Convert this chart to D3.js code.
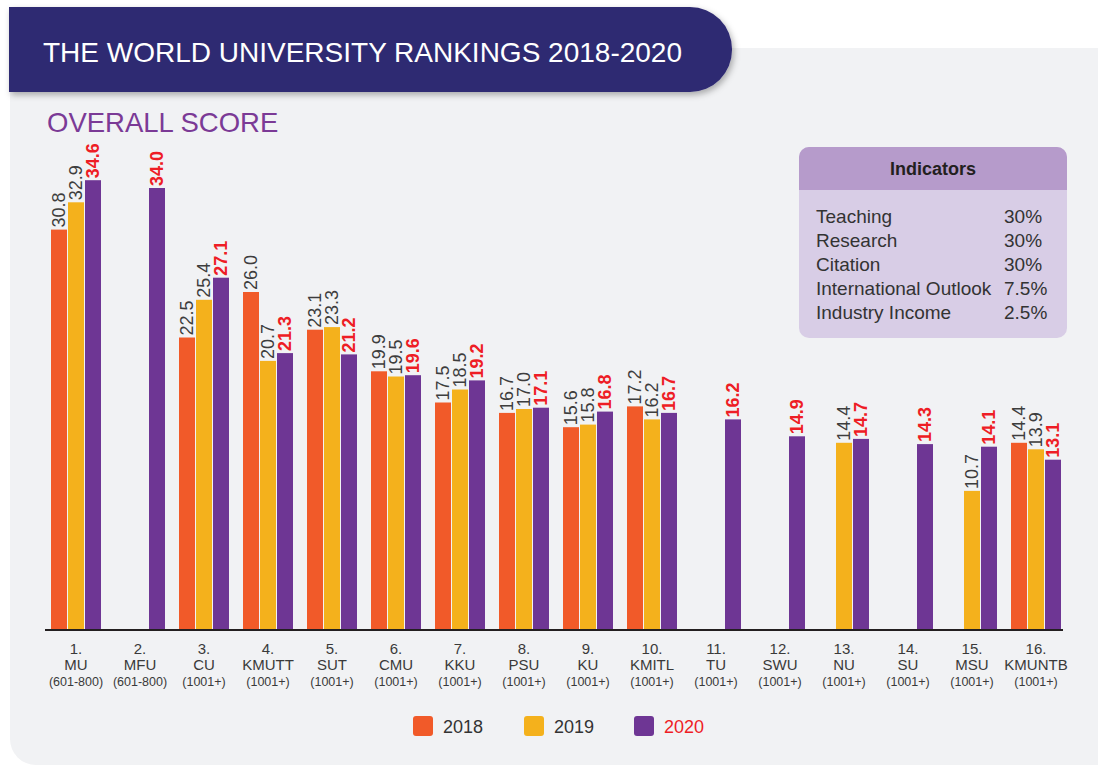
<!DOCTYPE html>
<html>
<head>
<meta charset="utf-8">
<script src="https://cdn.jsdelivr.net/npm/d3@7"></script>
<style>
  body { margin: 0; background: #fff; }
  svg { display: block; font-family: "Liberation Sans", Arial, sans-serif; }
</style>
</head>
<body>
<div id="chart-area"></div>
<script>
// data
const schools = ["MU", "MFU", "CU", "KMUTT", "SUT", "CMU", "KKU", "PSU", "KU", "KMITL", "TU", "SWU", "NU", "SU", "MSU", "KMUNTB"]
const rankBands = ["601-800", "601-800", "1001+", "1001+", "1001+", "1001+", "1001+", "1001+", "1001+", "1001+", "1001+", "1001+", "1001+", "1001+", "1001+", "1001+"]
const years = ["2018", "2019", "2020"]
const score2018 = [30.8, null, 22.5, 26.0, 23.1, 19.9, 17.5, 16.7, 15.6, 17.2, null, null, null, null, null, 14.4]
const score2019 = [32.9, null, 25.4, 20.7, 23.3, 19.5, 18.5, 17.0, 15.8, 16.2, null, null, 14.4, null, 10.7, 13.9]
const score2020 = [34.6, 34.0, 27.1, 21.3, 21.2, 19.6, 19.2, 17.1, 16.8, 16.7, 16.2, 14.9, 14.7, 14.3, 14.1, 13.1]
const indicatorNames = ["Teaching", "Research", "Citation", "International Outlook", "Industry Income"]
const indicatorWeights = ["30%", "30%", "30%", "7.5%", "2.5%"]

const W = 1098, H = 767
const colors = { "2018": "#f15a29", "2019": "#f4b11c", "2020": "#6e3694" }
const RED = "#ee1d25"

const svg = d3.select("#chart-area").append("svg")
  .attr("width", W)
  .attr("height", H)

// shadow for the banner
const defs = svg.append("defs")
const shadow = defs.append("filter").attr("id", "shadow")
  .attr("x", "-5%").attr("y", "-20%").attr("width", "115%").attr("height", "160%")
shadow.append("feDropShadow")
  .attr("dx", 2).attr("dy", 3).attr("stdDeviation", 3)
  .attr("flood-color", "#000").attr("flood-opacity", 0.3)

// grey panel
svg.append("rect")
  .attr("x", 10).attr("y", 48)
  .attr("width", 1120).attr("height", 717)
  .attr("rx", 26)
  .attr("fill", "#f1f2f4")

// title banner, square left and round right end
const bx0 = 9, bx1 = 732, by0 = 7, by1 = 92, br = 42
svg.append("path")
  .attr("d", `M${bx0},${by0} H${bx1 - br} A${br},${br} 0 0 1 ${bx1},${by0 + br} V${by1 - br} A${br},${br} 0 0 1 ${bx1 - br},${by1} H${bx0} Z`)
  .attr("fill", "#2e2a72")
  .attr("filter", "url(#shadow)")

svg.append("text")
  .attr("x", 43).attr("y", 62)
  .attr("fill", "#fff")
  .attr("font-size", "28px")
  .text("THE WORLD UNIVERSITY RANKINGS 2018-2020")

svg.append("text")
  .attr("x", 47).attr("y", 132)
  .attr("fill", "#7b3a96")
  .attr("font-size", "27.5px")
  .text("OVERALL SCORE")

// scales
const BASE = 630
const x0 = d3.scaleBand()
  .domain(schools)
  .range([45, 1067])
  .paddingInner(14 / 64)
  .paddingOuter(6 / 64)

const x1 = d3.scaleBand()
  .domain(years)
  .range([0, x0.bandwidth() + 1])

const y = d3.scaleLinear()
  .domain([0, 35])
  .range([BASE, BASE - 455])

const rows = schools.map((s, i) => ({
  school: s,
  vals: [
    { year: "2018", v: score2018[i] },
    { year: "2019", v: score2019[i] },
    { year: "2020", v: score2020[i] }
  ].filter(d => d.v !== null)
}))

const g = svg.append("g")

const groups = g.selectAll(".grp")
  .data(rows)
  .enter().append("g")
  .attr("class", "grp")
  .attr("transform", d => `translate(${x0(d.school)},0)`)

groups.selectAll("rect")
  .data(d => d.vals)
  .enter().append("rect")
  .attr("x", d => x1(d.year))
  .attr("y", d => y(d.v))
  .attr("width", x1.bandwidth() - 1)
  .attr("height", d => BASE - y(d.v))
  .attr("fill", d => colors[d.year])

// value labels, rotated
groups.selectAll(".val")
  .data(d => d.vals)
  .enter().append("text")
  .attr("class", "val")
  .attr("transform", d => `translate(${x1(d.year) + (x1.bandwidth() - 1) / 2},${y(d.v) - 2}) rotate(-90)`)
  .attr("dy", "0.36em")
  .attr("font-size", "18px")
  .attr("font-weight", d => d.year === "2020" ? "bold" : "normal")
  .attr("fill", d => d.year === "2020" ? RED : "#3d3d3d")
  .text(d => d3.format(".1f")(d.v))

// x axis
const xAxis = g.append("g")
  .attr("transform", `translate(0,${BASE})`)
  .call(d3.axisBottom(x0).tickSize(0).tickFormat(""))

xAxis.select(".domain").remove()
xAxis.append("line")
  .attr("x1", 45).attr("x2", 1063)
  .attr("stroke", "#231f20")
  .attr("stroke-width", 2)

xAxis.selectAll(".tick text").each(function (d, i) {
  const t = d3.select(this)
    .attr("y", 0)
    .attr("dy", null)
    .attr("fill", "#3a3a3a")
    .attr("font-family", "\"Liberation Sans\", Arial, sans-serif")
  t.append("tspan").attr("x", 0).attr("y", 24).attr("font-size", "15px").text(`${i + 1}.`)
  t.append("tspan").attr("x", 0).attr("y", 40).attr("font-size", "15px").text(d)
  t.append("tspan").attr("x", 0).attr("y", 56).attr("font-size", "12.5px").text(`(${rankBands[i]})`)
})

// indicators box
const box = svg.append("g").attr("transform", "translate(799,147)")
box.append("rect")
  .attr("width", 268).attr("height", 191).attr("rx", 10)
  .attr("fill", "#d8cde6")
box.append("path")
  .attr("d", "M0,43 V10 A10,10 0 0 1 10,0 H258 A10,10 0 0 1 268,10 V43 Z")
  .attr("fill", "#b69bcb")
box.append("text")
  .attr("x", 134).attr("y", 28)
  .attr("text-anchor", "middle")
  .attr("font-size", "18px")
  .attr("font-weight", "bold")
  .attr("fill", "#231f20")
  .text("Indicators")

const ind = box.selectAll(".ind")
  .data(indicatorNames)
  .enter().append("g")
  .attr("class", "ind")
  .attr("transform", (d, i) => `translate(0,${76 + i * 24})`)
ind.append("text")
  .attr("x", 17)
  .attr("font-size", "19px")
  .attr("fill", "#333")
  .text(d => d)
ind.append("text")
  .attr("x", 205)
  .attr("font-size", "19px")
  .attr("fill", "#333")
  .text((d, i) => indicatorWeights[i])

// legend
const legX = [413, 524, 634]
const legend = svg.selectAll(".leg")
  .data(years)
  .enter().append("g")
  .attr("class", "leg")
  .attr("transform", (d, i) => `translate(${legX[i]},716)`)
legend.append("rect")
  .attr("width", 20).attr("height", 20).attr("rx", 3)
  .attr("fill", d => colors[d])
legend.append("text")
  .attr("x", 30).attr("y", 17)
  .attr("font-size", "18px")
  .attr("fill", d => d === "2020" ? RED : "#333")
  .text(d => d)
</script>
</body>
</html>
